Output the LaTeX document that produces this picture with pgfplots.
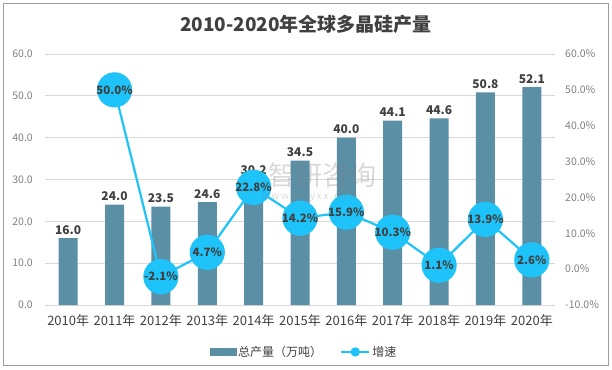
\documentclass[border=0pt]{standalone}
\usepackage{pgfplots}
\pgfplotsset{compat=1.18}
\usepackage{fontspec}
\setmainfont{Noto Sans CJK SC}
\definecolor{barc}{HTML}{5B8FA6}
\definecolor{linec}{HTML}{1EC3FA}
\definecolor{gridc}{HTML}{D9D9D9}
\definecolor{xtc}{HTML}{404040}
\definecolor{ytc}{HTML}{808080}
\definecolor{labc}{HTML}{404040}
\begin{document}
\begin{tikzpicture}[x=1pt,y=1pt]
\useasboundingbox (0,0) rectangle (612,369);
\draw[color=gray!75, line width=0.8pt] (3,4) rectangle (608,366);
\node[font=\fontsize{19}{22}\selectfont\bfseries, text=labc] at (306,345) {2010-2020年全球多晶硅产量};
\begin{axis}[at={(45pt,64pt)}, anchor=south west, scale only axis,
  width=510pt, height=251pt,
  xmin=-0.5, xmax=10.5, ymin=0, ymax=60, ytick={0,10,...,60},
  xtick={0,...,10},
  xticklabels={2010年,2011年,2012年,2013年,2014年,2015年,2016年,2017年,2018年,2019年,2020年},
  axis line style={draw=none}, major tick length=0pt,
  ymajorgrids, grid style={gridc, line width=0.8pt},
  /pgf/number format/assume math mode=true,
  yticklabel style={font=\fontsize{10.5}{12}\selectfont, text=ytc, inner sep=0pt, xshift=-12pt,
    /pgf/number format/fixed, /pgf/number format/fixed zerofill, /pgf/number format/precision=1},
  xticklabel style={font=\fontsize{13}{15}\selectfont, text=xtc, inner sep=0pt, yshift=-9pt},
  ybar, bar width=19pt,
  nodes near coords,
  nodes near coords style={font=\fontsize{12}{14}\selectfont\bfseries, text=labc,
    /pgf/number format/fixed, /pgf/number format/fixed zerofill, /pgf/number format/precision=1},
  clip=false,
]
\addplot[fill=barc, draw=none] coordinates {
(0,16.0) (1,24.0) (2,23.5) (3,24.6) (4,30.2) (5,34.5) (6,40.0) (7,44.1) (8,44.6) (9,50.8) (10,52.1)};
\end{axis}
\begin{axis}[at={(45pt,64pt)}, anchor=south west, scale only axis,
  width=510pt, height=251pt,
  xmin=-0.5, xmax=10.5, ymin=-10, ymax=60, ytick={-10,0,...,60},
  xtick=\empty, axis y line*=right, axis x line=none,
  axis line style={draw=none}, major tick length=0pt,
  /pgf/number format/assume math mode=true,
  yticklabel={\pgfmathprintnumber[fixed,fixed zerofill,precision=1]{\tick}\%},
  yticklabel style={font=\fontsize{10.5}{12}\selectfont, text=ytc, inner sep=0pt, anchor=west, xshift=10pt},
  legend style={at={(0.508,-0.187)}, anchor=center, draw=none, fill=none,
    font=\fontsize{12}{14}\selectfont, text=xtc, legend columns=2,
    /tikz/every even column/.append style={column sep=16pt}},
  clip=false,
]
\addlegendimage{legend image code/.code={\fill[barc] (0pt,-3.5pt) rectangle (26pt,3.5pt);}}
\addlegendentry{总产量（万吨）}
\addplot[linec, line width=2.2pt, mark=*, mark size=16.5pt, mark options={fill=linec, draw=none},
  nodes near coords={\pgfmathprintnumber[fixed,fixed zerofill,precision=1]{\pgfplotspointmeta}\%},
  nodes near coords style={anchor=center, font=\fontsize{11.5}{13}\selectfont\bfseries, text=labc},
  legend image code/.code={\draw[linec, line width=2.2pt] (0pt,0pt) -- (28pt,0pt); \fill[linec] (14pt,0pt) circle (3.5pt);}]
 coordinates {(1,50.0) (2,-2.1) (3,4.7) (4,22.8) (5,14.2) (6,15.9) (7,10.3) (8,1.1) (9,13.9) (10,2.6)};
\addlegendentry{增速}
\end{axis}
\node[font=\fontsize{27}{30}\selectfont, text=gray, opacity=0.3] at (322,194) {智研咨询};
\node[font=\fontsize{10}{12}\selectfont, text=gray, opacity=0.3] at (310,172) {w\,w\,w\,.\,c\,h\,y\,x\,x\,.\,c\,o\,m};
\end{tikzpicture}
\end{document}
